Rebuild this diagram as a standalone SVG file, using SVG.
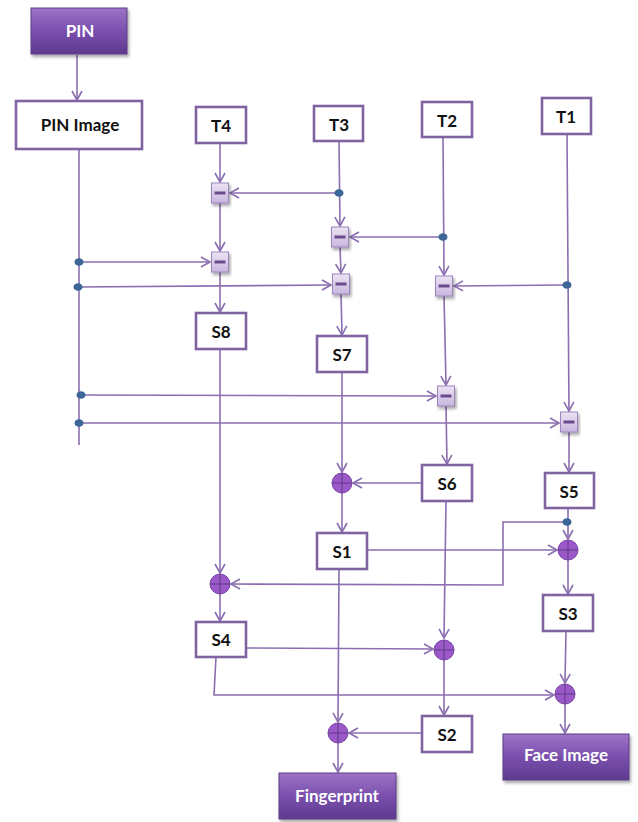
<svg xmlns="http://www.w3.org/2000/svg" width="638" height="822" viewBox="0 0 638 822">
<style>
.box{fill:#fff;stroke:#8064a2;stroke-width:2.6}
.fbox{fill:url(#fg);stroke:#5c3d85;stroke-width:1}
.t{font-family:Lato,"Open Sans","Liberation Sans",sans-serif;font-weight:bold;font-size:17px;text-anchor:middle;fill:#111}
.ft{font-family:Lato,"Open Sans","Liberation Sans",sans-serif;font-weight:bold;font-size:17px;text-anchor:middle;fill:#fff}
.ln{fill:none;stroke:#8a6eb0;stroke-width:1.6}
.ar{marker-end:url(#ah)}
.mb{fill:url(#mg);stroke:#9b84bd;stroke-width:1}
.mbar{fill:#6a4c8c}
.pc{fill:#9a58c8;stroke:#7a44a8;stroke-width:1}
.pl{stroke:#5e3a86;stroke-width:1}
.dot{fill:#3d6796}
</style>
<defs>
<linearGradient id="fg" x1="0" y1="0" x2="0" y2="1">
<stop offset="0" stop-color="#9d74c6"/>
<stop offset="0.5" stop-color="#7a4fae"/>
<stop offset="1" stop-color="#5f3a8e"/>
</linearGradient>
<linearGradient id="mg" x1="0" y1="0" x2="0" y2="1">
<stop offset="0" stop-color="#ece4f4"/>
<stop offset="1" stop-color="#c8b6de"/>
</linearGradient>
<filter id="sh" x="-10%" y="-10%" width="130%" height="140%">
<feDropShadow dx="1.5" dy="2.5" stdDeviation="1.5" flood-color="#000" flood-opacity="0.35"/>
</filter>
<marker id="ah" markerWidth="12" markerHeight="12" refX="10" refY="6" orient="auto" markerUnits="userSpaceOnUse">
<polyline points="1,1 10,6 1,11" fill="none" stroke="#8a6eb0" stroke-width="1.6"/>
</marker>
</defs>

<g id="connectors">
<line class="ln ar" x1="77" y1="55" x2="77" y2="100"/>
<line class="ln" x1="79" y1="149" x2="79" y2="445"/>
<line class="ln ar" x1="220" y1="143" x2="220" y2="182"/>
<line class="ln ar" x1="220" y1="203" x2="220" y2="251"/>
<line class="ln ar" x1="220" y1="272" x2="220" y2="312"/>
<line class="ln ar" x1="339" y1="141" x2="340" y2="226"/>
<line class="ln ar" x1="339" y1="193" x2="230" y2="193"/>
<line class="ln ar" x1="340" y1="247" x2="341" y2="273"/>
<line class="ln ar" x1="341" y1="294" x2="342" y2="335"/>
<line class="ln ar" x1="443" y1="137" x2="444" y2="275"/>
<line class="ln ar" x1="443" y1="237" x2="350" y2="237"/>
<line class="ln ar" x1="567" y1="134" x2="569" y2="411"/>
<line class="ln ar" x1="567" y1="285" x2="454" y2="286"/>
<line class="ln ar" x1="79" y1="262" x2="210" y2="262"/>
<line class="ln ar" x1="78" y1="287" x2="331" y2="285"/>
<line class="ln ar" x1="444" y1="296" x2="446" y2="385"/>
<line class="ln ar" x1="81" y1="395" x2="436" y2="396"/>
<line class="ln ar" x1="79" y1="423" x2="559" y2="423"/>
<line class="ln ar" x1="446" y1="406" x2="447" y2="464"/>
<line class="ln ar" x1="569" y1="432" x2="569" y2="472"/>
<line class="ln ar" x1="342" y1="372" x2="342" y2="472"/>
<line class="ln ar" x1="422" y1="483" x2="353" y2="483"/>
<line class="ln ar" x1="342" y1="493" x2="342" y2="532"/>
<line class="ln ar" x1="568" y1="508" x2="568" y2="539"/>
<polyline class="ln ar" points="567,522 503,522 503,585 231,584"/>
<line class="ln ar" x1="367" y1="550" x2="557" y2="550"/>
<line class="ln ar" x1="220" y1="349" x2="220" y2="573"/>
<line class="ln ar" x1="220" y1="594" x2="220" y2="621"/>
<line class="ln ar" x1="568" y1="560" x2="568" y2="594"/>
<line class="ln ar" x1="246" y1="648" x2="433" y2="649"/>
<line class="ln ar" x1="446" y1="501" x2="444" y2="638"/>
<polyline class="ln ar" points="216,657 214,695 554,695"/>
<line class="ln ar" x1="566" y1="631" x2="565" y2="683"/>
<line class="ln ar" x1="565" y1="704" x2="565" y2="733"/>
<line class="ln ar" x1="444" y1="660" x2="444" y2="715"/>
<line class="ln ar" x1="339" y1="569" x2="338" y2="722"/>
<line class="ln ar" x1="422" y1="733" x2="349" y2="733"/>
<line class="ln ar" x1="338" y1="743" x2="338" y2="772"/>
</g>

<g id="dots">
<ellipse class="dot" cx="339" cy="193" rx="4.5" ry="3.8"/>
<ellipse class="dot" cx="443" cy="237" rx="4.5" ry="3.8"/>
<ellipse class="dot" cx="567" cy="285" rx="4.5" ry="3.8"/>
<ellipse class="dot" cx="79" cy="262" rx="4.5" ry="3.8"/>
<ellipse class="dot" cx="78" cy="287" rx="4.5" ry="3.8"/>
<ellipse class="dot" cx="81" cy="395" rx="4.5" ry="3.8"/>
<ellipse class="dot" cx="79" cy="423" rx="4.5" ry="3.8"/>
<ellipse class="dot" cx="567" cy="522" rx="4.5" ry="3.8"/>
</g>

<g id="PIN"><rect class="fbox" filter="url(#sh)" x="31" y="8" width="96" height="46"/><text class="ft" x="80" y="37">PIN</text></g>
<g id="PINImage"><rect class="box" x="16" y="101" width="126" height="48"/><text class="t" x="80" y="131">PIN Image</text></g>
<g id="T4"><rect class="box" x="196" y="107" width="50" height="36"/><text class="t" x="221" y="132">T4</text></g>
<g id="T3"><rect class="box" x="314" y="106" width="49" height="35"/><text class="t" x="339" y="131">T3</text></g>
<g id="T2"><rect class="box" x="422" y="102" width="50" height="35"/><text class="t" x="447" y="127">T2</text></g>
<g id="T1"><rect class="box" x="542" y="98" width="49" height="36"/><text class="t" x="566" y="123">T1</text></g>
<g id="S8"><rect class="box" x="196" y="313" width="50" height="36"/><text class="t" x="221" y="338">S8</text></g>
<g id="S7"><rect class="box" x="317" y="336" width="50" height="36"/><text class="t" x="342" y="361">S7</text></g>
<g id="S6"><rect class="box" x="422" y="465" width="50" height="36"/><text class="t" x="447" y="490">S6</text></g>
<g id="S5"><rect class="box" x="545" y="473" width="49" height="35"/><text class="t" x="569" y="498">S5</text></g>
<g id="S1"><rect class="box" x="317" y="533" width="50" height="36"/><text class="t" x="342" y="558">S1</text></g>
<g id="S3"><rect class="box" x="543" y="595" width="50" height="36"/><text class="t" x="568" y="620">S3</text></g>
<g id="S4"><rect class="box" x="196" y="622" width="50" height="35"/><text class="t" x="221" y="646">S4</text></g>
<g id="S2"><rect class="box" x="422" y="716" width="50" height="36"/><text class="t" x="447" y="741">S2</text></g>
<g id="Fingerprint"><rect class="fbox" filter="url(#sh)" x="279" y="773" width="117" height="46"/><text class="ft" x="337" y="802">Fingerprint</text></g>
<g id="FaceImage"><rect class="fbox" filter="url(#sh)" x="503" y="734" width="126" height="46"/><text class="ft" x="566" y="761">Face Image</text></g>

<g id="m1"><rect class="mb" filter="url(#sh)" x="211.5" y="183" width="17" height="20"/><rect class="mbar" x="214.5" y="191.5" width="11" height="3"/></g>
<g id="m2"><rect class="mb" filter="url(#sh)" x="211.5" y="252" width="17" height="20"/><rect class="mbar" x="214.5" y="260.5" width="11" height="3"/></g>
<g id="m3"><rect class="mb" filter="url(#sh)" x="331.5" y="227" width="17" height="20"/><rect class="mbar" x="334.5" y="235.5" width="11" height="3"/></g>
<g id="m4"><rect class="mb" filter="url(#sh)" x="332.5" y="274" width="17" height="20"/><rect class="mbar" x="335.5" y="282.5" width="11" height="3"/></g>
<g id="m5"><rect class="mb" filter="url(#sh)" x="435.5" y="276" width="17" height="20"/><rect class="mbar" x="438.5" y="284.5" width="11" height="3"/></g>
<g id="m6"><rect class="mb" filter="url(#sh)" x="437.5" y="386" width="17" height="20"/><rect class="mbar" x="440.5" y="394.5" width="11" height="3"/></g>
<g id="m7"><rect class="mb" filter="url(#sh)" x="560.5" y="412" width="17" height="20"/><rect class="mbar" x="563.5" y="420.5" width="11" height="3"/></g>

<g id="p1"><circle class="pc" cx="342" cy="483" r="10"/><path class="pl" d="M332,483H352M342,473V493"/></g>
<g id="p2"><circle class="pc" cx="568" cy="550" r="10"/><path class="pl" d="M558,550H578M568,540V560"/></g>
<g id="p3"><circle class="pc" cx="220" cy="584" r="10"/><path class="pl" d="M210,584H230M220,574V594"/></g>
<g id="p4"><circle class="pc" cx="444" cy="650" r="10"/><path class="pl" d="M434,650H454M444,640V660"/></g>
<g id="p5"><circle class="pc" cx="565" cy="694" r="10"/><path class="pl" d="M555,694H575M565,684V704"/></g>
<g id="p6"><circle class="pc" cx="338" cy="733" r="10"/><path class="pl" d="M328,733H348M338,723V743"/></g>
</svg>
